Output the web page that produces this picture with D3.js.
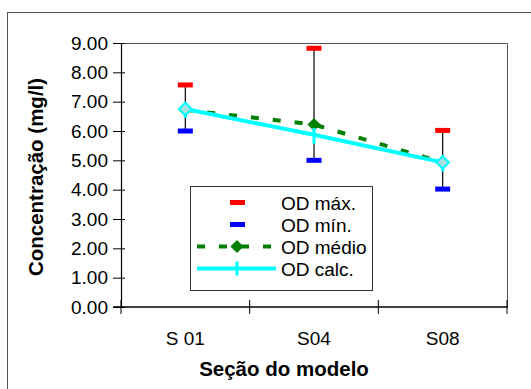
<!DOCTYPE html>
<html>
<head>
<meta charset="utf-8">
<script src="https://cdn.jsdelivr.net/npm/d3@7"></script>
<style>
  body { margin: 0; background: #fff; }
  text { font-family: "Liberation Sans", Arial, sans-serif; }
</style>
</head>
<body>
<svg width="531" height="389"></svg>
<script>
// data
var sections = ["S 01", "S04", "S08"];
var odMax = [7.57, 8.82, 6.02];
var odMin = [6.0, 5.0, 4.02];
var odMedio = [6.72, 6.22, 4.93];
var odCalc = [6.75, 5.87, 4.93];
var yTicks = [0, 1, 2, 3, 4, 5, 6, 7, 8, 9];
// sections where the pale diamond marker shows
var paleMarks = ["S 01", "S08"];

var svg = d3.select("svg");

// outer chart frame
svg.append("rect")
    .attr("x", 7.5).attr("y", 12.5)
    .attr("width", 540).attr("height", 400)
    .attr("fill", "none").attr("stroke", "#555").attr("stroke-width", 1);

var plotLeft = 121, plotRight = 507, plotTop = 43, plotBottom = 307;

var x = d3.scaleBand().domain(sections).range([plotLeft, plotRight]).padding(0);
var y = d3.scaleLinear().domain([0, 9]).range([plotBottom, plotTop]);
var cx = function (i) { return x(sections[i]) + x.bandwidth() / 2; };

// plot frame top and right
svg.append("path")
    .attr("d", "M" + plotLeft + "," + (plotTop + 0.5) + "H" + (plotRight + 0.5) + "V" + plotBottom)
    .attr("fill", "none").attr("stroke", "#555").attr("stroke-width", 1);

// y axis
var yAxis = svg.append("g")
    .attr("transform", "translate(" + plotLeft + ",0)")
    .call(d3.axisLeft(y).tickValues(yTicks).tickFormat(d3.format(".2f")).tickSize(8).tickPadding(5));
yAxis.select(".domain").attr("stroke", "#000").attr("stroke-width", 1.2);
yAxis.selectAll(".tick line").attr("x1", 4).attr("stroke", "#000");
yAxis.selectAll(".tick text")
    .attr("font-size", 19).attr("fill", "#000")
    .attr("font-family", "'Liberation Sans', Arial, sans-serif");

// x axis
svg.append("line")
    .attr("x1", plotLeft - 8).attr("x2", plotRight + 1)
    .attr("y1", plotBottom).attr("y2", plotBottom)
    .attr("stroke", "#000").attr("stroke-width", 1.5);
var bounds = sections.map(function (d) { return x(d); }).concat([plotRight]);
svg.selectAll(".xtick").data(bounds).enter().append("line")
    .attr("x1", function (d) { return d; }).attr("x2", function (d) { return d; })
    .attr("y1", plotBottom - 7).attr("y2", plotBottom + 7)
    .attr("stroke", "#000").attr("stroke-width", 1);
svg.selectAll(".xlab").data(sections).enter().append("text")
    .attr("x", function (d, i) { return cx(i); })
    .attr("y", 345)
    .attr("text-anchor", "middle")
    .attr("font-size", 19)
    .text(function (d) { return d; });

// axis titles
svg.append("text")
    .attr("x", 284).attr("y", 376)
    .attr("text-anchor", "middle")
    .attr("font-size", 20.5).attr("font-weight", "bold")
    .text("Seção do modelo");
svg.append("text")
    .attr("transform", "translate(43,177) rotate(-90)")
    .attr("text-anchor", "middle")
    .attr("font-size", 20.5).attr("font-weight", "bold")
    .text("Concentração (mg/l)");

// error bars max-min
svg.selectAll(".err").data(sections).enter().append("line")
    .attr("x1", function (d, i) { return cx(i); })
    .attr("x2", function (d, i) { return cx(i); })
    .attr("y1", function (d, i) { return y(odMax[i]); })
    .attr("y2", function (d, i) { return y(odMin[i]); })
    .attr("stroke", "#000").attr("stroke-width", 1.2);

// OD medio dashed line
var lineGen = d3.line().x(function (d, i) { return cx(i); }).y(function (d) { return y(d); });
svg.append("path").datum(odMedio)
    .attr("d", lineGen)
    .attr("fill", "none").attr("stroke", "#008000")
    .attr("stroke-width", 4).attr("stroke-dasharray", "8,14");

var diamond = d3.symbol().type(d3.symbolDiamond2).size(110);
svg.selectAll(".med").data(odMedio).enter().append("path")
    .attr("d", diamond)
    .attr("transform", function (d, i) { return "translate(" + cx(i) + "," + y(d) + ")"; })
    .attr("fill", "#008000");

// OD calc
svg.append("path").datum(odCalc)
    .attr("d", lineGen)
    .attr("fill", "none").attr("stroke", "#00ffff").attr("stroke-width", 4);
svg.selectAll(".calc").data(odCalc).enter().append("line")
    .attr("x1", function (d, i) { return cx(i); })
    .attr("x2", function (d, i) { return cx(i); })
    .attr("y1", function (d) { return y(d) - 7; })
    .attr("y2", function (d) { return y(d) + 9; })
    .attr("stroke", "#00ffff").attr("stroke-width", 3);
svg.selectAll(".pale").data(paleMarks).enter().append("path")
    .attr("d", d3.symbol().type(d3.symbolDiamond2).size(100))
    .attr("transform", function (d) {
        var i = sections.indexOf(d);
        return "translate(" + cx(i) + "," + y(odCalc[i]) + ")";
    })
    .attr("fill", "#a8e0e0").attr("stroke", "#00ffff").attr("stroke-width", 2);

// max / min markers
svg.selectAll(".mx").data(odMax).enter().append("rect")
    .attr("x", function (d, i) { return cx(i) - 7.5; })
    .attr("y", function (d) { return y(d) - 2.5; })
    .attr("width", 15).attr("height", 5)
    .attr("fill", "#ff0000");
svg.selectAll(".mn").data(odMin).enter().append("rect")
    .attr("x", function (d, i) { return cx(i) - 7.5; })
    .attr("y", function (d) { return y(d) - 2.5; })
    .attr("width", 15).attr("height", 5)
    .attr("fill", "#0000ff");

// legend
var legend = svg.append("g").attr("transform", "translate(190,186)");
legend.append("rect")
    .attr("x", 0.5).attr("y", 0.5).attr("width", 182).attr("height", 104)
    .attr("fill", "#fff").attr("stroke", "#333").attr("stroke-width", 1);
var items = ["OD máx.", "OD mín.", "OD médio", "OD calc."];
var rowY = function (i) { return 16.5 + i * 22; };
legend.selectAll(".lt").data(items).enter().append("text")
    .attr("x", 91).attr("y", function (d, i) { return rowY(i) + 7; })
    .attr("font-size", 19)
    .text(function (d) { return d; });
legend.append("rect").attr("x", 40).attr("y", rowY(0) - 2.5).attr("width", 15).attr("height", 5).attr("fill", "#ff0000");
legend.append("rect").attr("x", 40).attr("y", rowY(1) - 2.5).attr("width", 15).attr("height", 5).attr("fill", "#0000ff");
legend.append("line").attr("x1", 7).attr("x2", 83).attr("y1", rowY(2)).attr("y2", rowY(2))
    .attr("stroke", "#008000").attr("stroke-width", 4).attr("stroke-dasharray", "8,14");
legend.append("path").attr("d", diamond).attr("transform", "translate(47," + rowY(2) + ")").attr("fill", "#008000");
legend.append("line").attr("x1", 7).attr("x2", 86).attr("y1", rowY(3)).attr("y2", rowY(3))
    .attr("stroke", "#00ffff").attr("stroke-width", 4);
legend.append("line").attr("x1", 47).attr("x2", 47).attr("y1", rowY(3) - 7).attr("y2", rowY(3) + 7)
    .attr("stroke", "#00ffff").attr("stroke-width", 3);
</script>
</body>
</html>
